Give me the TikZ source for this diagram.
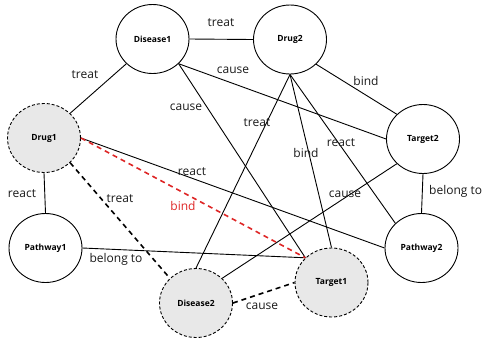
\documentclass[tikz,border=0pt]{standalone}
\usepackage{fontspec}
\setmainfont{Open Sans}
\usetikzlibrary{shapes.geometric}
\definecolor{nodegrey}{RGB}{232,232,232}
\definecolor{bindred}{RGB}{222,38,38}
\tikzset{
  entity/.style={ellipse, draw=black, line width=0.9pt, minimum width=73pt,
    minimum height=69pt, inner sep=0pt, font=\bfseries\fontsize{8.5}{9}\selectfont},
  known/.style={entity, fill=white},
  novel/.style={entity, fill=nodegrey, dashed, dash pattern=on 3pt off 2pt},
  rel/.style={line width=0.9pt, black},
  newrel/.style={line width=1.6pt, black, dash pattern=on 5pt off 4pt},
  redrel/.style={line width=1.6pt, bindred, dash pattern=on 5pt off 4pt},
  lbl/.style={font=\fontsize{12}{13}\selectfont, inner sep=0pt, text=black!90}
}
\begin{document}
\begin{tikzpicture}[x=1pt, y=-1pt]
\useasboundingbox (0,0) rectangle (484,341);

% entities
\node[known] (d1) at (152.5,39) {Disease1};
\node[known] (dr2) at (290,39.5) {Drug2};
\node[novel] (dr1) at (44,138) {Drug1};
\node[known] (t2) at (423,139) {Target2};
\node[known] (p1) at (45.5,248) {Pathway1};
\node[known] (p2) at (421.5,248) {Pathway2};
\node[novel] (d2) at (196,303) {Disease2};
\node[novel] (t1) at (331.5,282.5) {Target1};

% known relations
\draw[rel] (d1.east) -- (dr2.west);
\draw[rel] (d1.south west) -- (dr1.north east);
\draw[rel] (d1.south east) -- (t2.west);
\draw[rel] (d1.south east) -- (t1.north west);
\draw[rel] (dr2.south east) -- (t2.north west);
\draw[rel] (dr2.south) -- (d2.north);
\draw[rel] (dr2.south) -- (t1.north);
\draw[rel] (dr2.south) -- (p2.north west);
\draw[rel] (t2.south) -- (p2.north);
\draw[rel] (t2.south west) -- (d2.north east);
\draw[rel] (dr1.east) -- (p2.west);
\draw[rel] (dr1.south) -- (p1.north);
\draw[rel] (p1.east) -- (t1.north west);

% predicted relations
\draw[redrel] (dr1.east) -- (t1.north west);
\draw[newrel] (dr1.south east) -- (d2.north west);
\draw[newrel] (d2.east) -- (t1.west);

% relation labels
\node[lbl] (l1) at (221,23) {treat};
\node[lbl] (l2) at (85,75) {treat};
\node[lbl] (l3) at (233,70) {cause};
\node[lbl] (l4) at (186,107) {cause};
\node[lbl] (l5) at (257,123) {treat};
\node[lbl] (l6) at (366,81) {bind};
\node[lbl] (l7) at (341,143) {react};
\node[lbl] (l8) at (306,153) {bind};
\node[lbl, anchor=west] (l9) at (429,191) {belong to};
\node[lbl] (l10) at (345,194) {cause};
\node[lbl] (l11) at (192,172) {react};
\node[lbl, text=bindred] (l12) at (183,206) {bind};
\node[lbl] (l13) at (120,199) {treat};
\node[lbl] (l14) at (22,194) {react};
\node[lbl] (l15) at (116,259) {belong to};
\node[lbl] (l16) at (262,306) {cause};
\end{tikzpicture}
\end{document}
